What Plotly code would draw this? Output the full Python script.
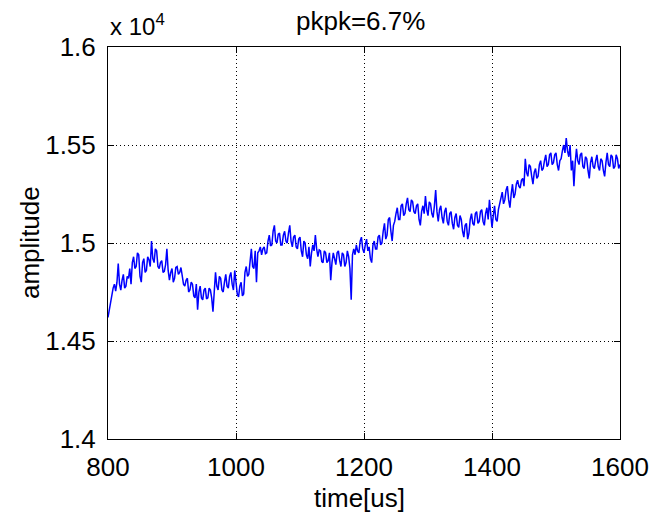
import plotly.graph_objects as go

# Sampled waveform: time in microseconds, raw amplitude counts
t_start_us = 800
t_step_us = 2
amplitude = [
    14620, 14660, 14700, 14740, 14770, 14790, 14755, 14800, 14895, 14790,
    14760, 14810, 14840, 14770, 14780, 14830, 14820, 14870, 14790, 14900,
    14930, 14870, 14880, 14950, 14940, 14830, 14800, 14900, 14920, 14850,
    14860, 14930, 14915, 14880, 15010, 14920, 14900, 14970, 14960, 14880,
    14870, 14900, 14910, 14850, 14855, 14890, 14970, 14860, 14810, 14850,
    14870, 14800, 14820, 14875, 14880, 14840, 14850, 14875, 14830, 14790,
    14780, 14810, 14820, 14750, 14760, 14800, 14790, 14730, 14720, 14790,
    14660, 14750, 14780, 14720, 14710, 14760, 14770, 14715, 14720, 14770,
    14760, 14720, 14650, 14740, 14850, 14780, 14760, 14830, 14820, 14760,
    14750, 14800, 14840, 14780, 14770, 14830, 14850, 14790, 14760, 14860,
    14790, 14740, 14725, 14780, 14800, 14730, 14740, 14850, 14880, 14830,
    14840, 14920, 14970, 14880, 14870, 14960, 14800, 14950, 14960, 14980,
    14940, 14970, 14980, 14945, 14950, 15010, 15040, 14985, 14990, 15060,
    15090, 15010, 15000, 15045, 15050, 14990, 14990, 15040, 15060, 15010,
    15000, 15050, 15090, 15010, 14980, 15030, 15040, 14980, 14970, 15020,
    15030, 14960, 14930, 15010, 15000, 14940, 14920, 14980, 14880, 14950,
    14990, 14960, 15040, 14970, 14930, 14965, 14960, 14905, 14900, 14960,
    14950, 14900, 14910, 14950, 14810, 14900, 14950, 14920, 14890, 14950,
    14960, 14910, 14880, 14950, 14940, 14880, 14900, 14960, 14930, 14870,
    14710, 14940, 14970, 14940, 14990, 14960, 14950, 15010, 15030, 14970,
    14950, 14990, 15020, 14960, 14980, 14920, 14900, 14990, 15010, 14970,
    14970, 15030, 15040, 14990, 15000, 15060, 15100, 15020, 15040, 15120,
    15130, 15060, 15010, 15090, 15110, 15150, 15180, 15120, 15120, 15190,
    15200, 15140, 15150, 15200, 15230, 15170, 15160, 15220, 15210, 15160,
    15150, 15190, 15200, 15120, 15090, 15160, 15190, 15150, 15240, 15170,
    15140, 15210, 15200, 15150, 15130, 15190, 15270, 15160, 15110, 15170,
    15190, 15130, 15100, 15160, 15180, 15110, 15090, 15150, 15160, 15100,
    15070, 15130, 15150, 15090, 15080, 15140, 15120, 15060, 15030, 15090,
    15100, 15020, 15050, 15120, 15150, 15100, 15090, 15150, 15160, 15100,
    15110, 15160, 15170, 15110, 15090, 15150, 15180, 15120, 15220, 15150,
    15080, 15140, 15190, 15120, 15110, 15170, 15200, 15230, 15260, 15200,
    15220, 15270, 15290, 15220, 15180, 15250, 15300, 15230, 15250, 15300,
    15320, 15290, 15280, 15320, 15330, 15290, 15430, 15360, 15340, 15400,
    15390, 15340, 15300, 15360, 15380, 15330, 15340, 15400, 15420, 15370,
    15380, 15420, 15450, 15390, 15400, 15450, 15460, 15400, 15410, 15450,
    15460, 15400, 15370, 15420, 15430, 15470, 15500, 15460, 15535, 15470,
    15440, 15500, 15370, 15420, 15290, 15410, 15480, 15420, 15400, 15450,
    15460, 15390, 15380, 15440, 15430, 15370, 15330, 15410, 15440, 15390,
    15380, 15420, 15450, 15390, 15370, 15430, 15420, 15370, 15340, 15410,
    15460, 15400, 15390, 15450, 15440, 15380, 15390, 15450, 15430, 15380,
    15400,
]
time_us = [t_start_us + i * t_step_us for i in range(len(amplitude))]

x_ticks = [800, 1000, 1200, 1400, 1600]
y_ticks = [14000, 14500, 15000, 15500, 16000]
y_tick_text = ["1.4", "1.45", "1.5", "1.55", "1.6"]

title_text = "pkpk=6.7%"
x_label = "time[us]"
y_label = "amplitude"
exponent_text = "x 10<sup>4</sup>"

FONT = "Liberation Sans, Arial, sans-serif"
W, H = 650, 521
L, R, T, B = 108, 30, 47, 82
PW, PH = W - L - R, H - T - B


def px_x(x):
    return (x - L) / PW


def px_y(y):
    return (H - B - y) / PH


fig = go.Figure()
fig.add_trace(go.Scatter(
    x=time_us, y=amplitude, mode="lines",
    line=dict(color="rgb(0,0,255)", width=1.5),
    hoverinfo="skip", showlegend=False,
))

axis_common = dict(
    showline=True, linecolor="black", linewidth=1, mirror="ticks",
    ticks="inside", ticklen=6, tickwidth=1, tickcolor="black",
    showgrid=True, gridcolor="black", gridwidth=1, griddash="1px,3px",
    zeroline=False, automargin=False,
    tickfont=dict(family=FONT, size=26, color="black"),
)

fig.update_xaxes(range=[800, 1600], tickmode="array", tickvals=x_ticks,
                 ticklabelstandoff=5, **axis_common)
fig.update_yaxes(range=[14000, 16000], tickmode="array", tickvals=y_ticks,
                 ticktext=y_tick_text, ticklabelstandoff=6, **axis_common)

annots = [
    dict(text=title_text, x=px_x(360), y=px_y(21), xanchor="center", yanchor="middle",
         font=dict(size=26)),
    dict(text=exponent_text, x=px_x(108), y=px_y(25), xanchor="left", yanchor="middle",
         font=dict(size=24)),
    dict(text=x_label, x=px_x(359), y=px_y(498), xanchor="center", yanchor="middle",
         font=dict(size=26)),
    dict(text=y_label, x=px_x(30), y=px_y(243), xanchor="center", yanchor="middle",
         textangle=-90, font=dict(size=26)),
]
for a in annots:
    a.update(xref="paper", yref="paper", showarrow=False)
    a["font"].update(family=FONT, color="black")
    fig.add_annotation(**a)

fig.update_layout(
    width=W, height=H,
    margin=dict(l=L, r=R, t=T, b=B),
    paper_bgcolor="white", plot_bgcolor="white",
    font=dict(family=FONT, color="black"),
)

fig.write_html("out.html")
